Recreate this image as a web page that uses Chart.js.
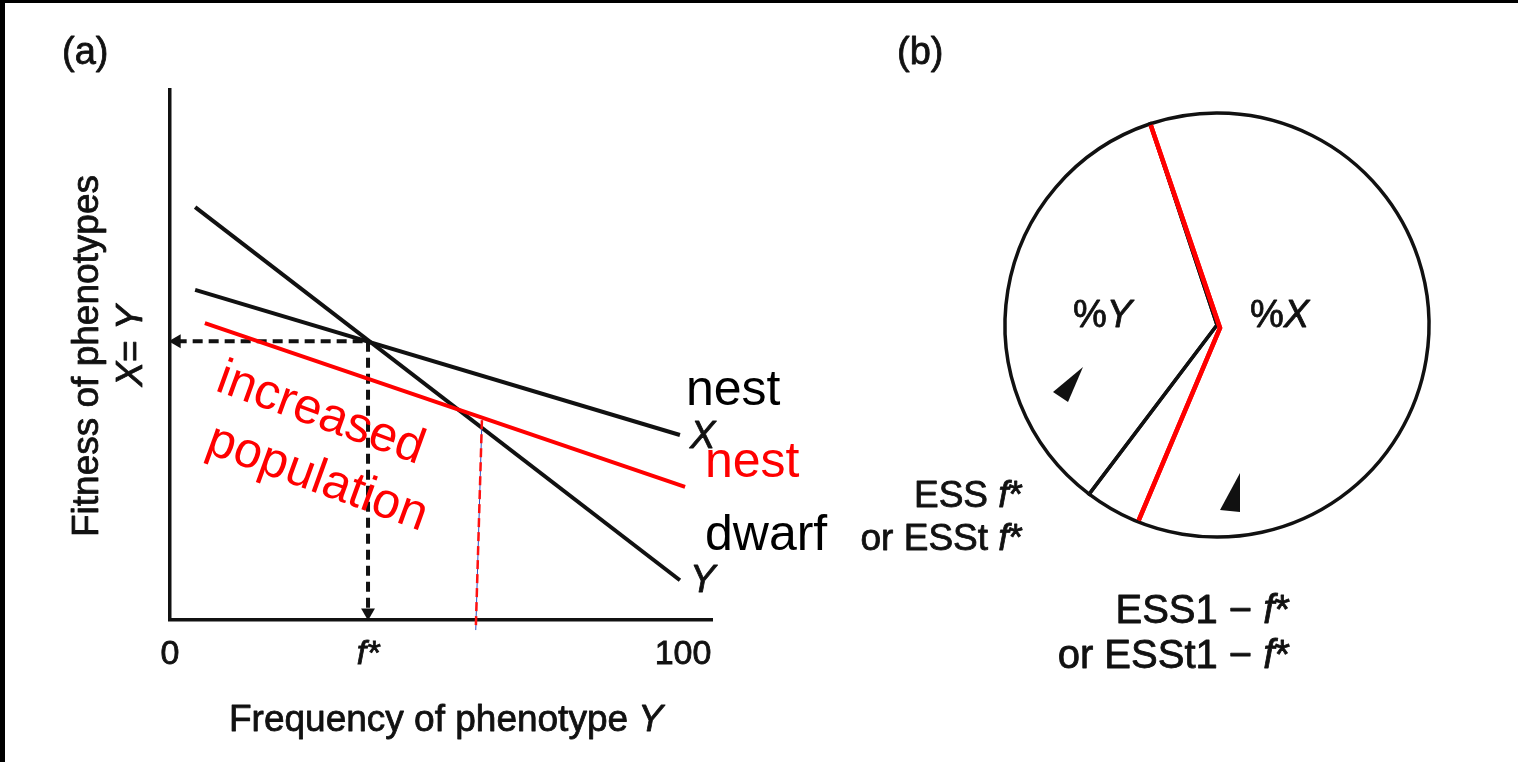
<!DOCTYPE html>
<html><head><meta charset="utf-8">
<script src="https://cdn.jsdelivr.net/npm/chart.js@4.4.1/dist/chart.umd.min.js"></script>
<style>
html,body{margin:0;padding:0;background:#fff;overflow:hidden;}
#wrap{position:relative;width:1518px;height:762px;background:#fff;}
canvas{position:absolute;left:0;top:0;}
.bar{position:absolute;background:#000;}
</style></head><body>
<div id="wrap">
<canvas id="ca" width="1518" height="762" style="width:1518px;height:762px"></canvas>
<canvas id="cb" width="1518" height="762" style="width:1518px;height:762px"></canvas>
<canvas id="cr" width="1518" height="762" style="width:1518px;height:762px"></canvas>
<div class="bar" style="left:0;top:0;width:1518px;height:3px"></div>
<div class="bar" style="left:0;top:0;width:5px;height:762px"></div>
</div>
<script>
// ---------- data (panel a) ----------
const xTickValues = [0, 38.6, 100];
const xTickLabels = ['0', 'f*', '100'];
const dwarfX = [4.9, 99.4];          // phenotype Y line
const dwarfFit = [77.9, 7.5];
const nestX = [4.9, 99.4];           // phenotype X line
const nestFit = [62.3, 34.9];
const nestNewX = [6.8, 100.4];       // red line, increased population
const nestNewFit = [56.0, 25.1];
const guideX = [1.3, 38.6, 38.6];    // equilibrium guide (f*, X=Y)
const guideY = [52.6, 52.6, 1.4];
const newGuideX = [60.8, 59.6];      // new equilibrium guide (red dashed)
const newGuideY = [37.7, -1.9];
// ---------- data (panel b) ----------
const pieLabels = ['%X', '%Y'];
const sharesBefore = [65.4, 34.6];
const sharesAfter = [61.6, 38.4];
const startBefore = -18.35;
const startAfter = -18.85;

const FAM = '"Liberation Sans", Arial, Helvetica, sans-serif';
function fnt(sz, it){ return (it ? 'italic ' : '') + sz + 'px ' + FAM; }
function runs(ctx, parts, x, y, align, size, color, stroke){
  ctx.fillStyle = color; ctx.strokeStyle = color; ctx.textBaseline = 'alphabetic'; ctx.textAlign = 'left';
  ctx.lineWidth = stroke || 0; ctx.lineJoin = 'round';
  let w = 0;
  parts.forEach(p => { ctx.font = fnt(size, p[1]); w += ctx.measureText(p[0]).width; });
  let cx = align === 'center' ? x - w/2 : (align === 'right' ? x - w : x);
  parts.forEach(p => {
    ctx.font = fnt(size, p[1]);
    ctx.fillText(p[0], cx, y);
    if (stroke) ctx.strokeText(p[0], cx, y);
    cx += ctx.measureText(p[0]).width;
  });
}
const pts = (xs, ys) => xs.map((x, i) => ({x: x, y: ys[i]}));
const SW = 0.8; // scanned-text weight

const textA = {
  id: 'textA',
  afterDraw(chart){
    const ctx = chart.ctx;
    ctx.save();
    runs(ctx, [['(a)', false]], 62, 64, 'left', 38, '#111', SW);
    // y title
    ctx.save(); ctx.translate(98, 356); ctx.rotate(-Math.PI/2);
    runs(ctx, [['Fitness of phenotypes', false]], 0, 0, 'center', 37, '#111', SW);
    ctx.restore();
    ctx.save(); ctx.translate(142, 346); ctx.rotate(-Math.PI/2);
    runs(ctx, [['X', true], ['= ', false], ['Y', true]], 0, 0, 'center', 37, '#111', SW);
    ctx.restore();
    // x title
    runs(ctx, [['Frequency of phenotype ', false], ['Y', true]], 446, 731, 'center', 37, '#111', SW);
    // line labels
    runs(ctx, [['X', true]], 690, 448, 'left', 38, '#111', SW);
    runs(ctx, [['Y', true]], 690, 592, 'left', 38, '#111', SW);
    runs(ctx, [['nest', false]], 686, 405, 'left', 50, '#000');
    runs(ctx, [['nest', false]], 705, 477, 'left', 50, '#ff0000');
    runs(ctx, [['dwarf', false]], 705, 550, 'left', 50, '#000');
    ctx.save(); ctx.translate(214, 390); ctx.rotate(20*Math.PI/180);
    runs(ctx, [['increased', false]], 0, 0, 'left', 50, '#ff0000');
    ctx.restore();
    ctx.save(); ctx.translate(204, 452); ctx.rotate(20*Math.PI/180);
    runs(ctx, [['population', false]], 0, 0, 'left', 50, '#ff0000');
    ctx.restore();
    ctx.restore();
  }
};

const chartA = new Chart(document.getElementById('ca'), {
  type: 'scatter',
  data: { datasets: [
    { data: pts(nestNewX, nestNewFit), showLine: true, borderColor: '#ff0000', borderWidth: 4, pointRadius: 0 },
    { data: pts(newGuideX, newGuideY), showLine: true, borderColor: '#ff1010', borderWidth: 2.5, borderDash: [9, 5], pointRadius: 0, clip: false },
    { data: pts(newGuideX, newGuideY), showLine: true, borderColor: '#2c4fc4', borderWidth: 1, pointRadius: 0, clip: false },
    { data: pts(nestX, nestFit), showLine: true, borderColor: '#111', borderWidth: 4, pointRadius: 0 },
    { data: pts(dwarfX, dwarfFit), showLine: true, borderColor: '#111', borderWidth: 4, pointRadius: 0 },
    { data: pts(guideX, guideY), showLine: true, borderColor: '#111', borderWidth: 4, borderDash: [10, 6],
      pointStyle: 'triangle', pointRadius: [8, 0, 8], pointRotation: [-90, 0, 180],
      pointBackgroundColor: '#111', pointBorderWidth: 0, clip: false }
  ]},
  options: {
    responsive: false, animation: false, events: [],
    plugins: { legend: { display: false }, tooltip: { enabled: false } },
    layout: { padding: { left: 170, top: 90, right: 806, bottom: 0 } },
    scales: {
      x: { type: 'linear', min: 0, max: 105.65,
        afterFit: s => { s.height = 142; },
        afterBuildTicks: axis => { axis.ticks = xTickValues.map(v => ({ value: v })); },
        grid: { display: false, drawTicks: false },
        border: { display: true, color: '#111', width: 3.5 },
        ticks: { autoSkip: false, maxRotation: 0, padding: 14, color: '#111',
          textStrokeColor: '#111', textStrokeWidth: SW,
          callback: (v, i) => xTickLabels[i],
          font: c => ({ family: FAM, size: 34, style: c.index === 1 ? 'italic' : 'normal' }) }
      },
      y: { type: 'linear', min: 0, max: 100,
        afterFit: s => { s.width = 0; },
        grid: { display: false, drawTicks: false },
        border: { display: true, color: '#111', width: 3.5 },
        ticks: { display: false }
      }
    }
  },
  plugins: [textA]
});

const textB = {
  id: 'textB',
  afterDraw(chart){
    const ctx = chart.ctx;
    const arc = chart.getDatasetMeta(0).data[0];
    const cx = arc.x, cy = arc.y;
    ctx.save();
    runs(ctx, [['(b)', false]], 897, 64, 'left', 38, '#111', SW);
    runs(ctx, [['%', false], ['Y', true]], 1073, 327, 'left', 38, '#111', SW);
    runs(ctx, [['%', false], ['X', true]], 1250, 327, 'left', 38, '#111', SW);
    runs(ctx, [['ESS ', false], ['f', true], ['*', false]], 1023, 507, 'right', 37, '#111', SW);
    runs(ctx, [['or ESSt ', false], ['f', true], ['*', false]], 1023, 550, 'right', 37, '#111', SW);
    runs(ctx, [['ESS1 \u2212 ', false], ['f', true], ['*', false]], 1290, 623, 'right', 40, '#111', SW);
    runs(ctx, [['or ESSt1 \u2212 ', false], ['f', true], ['*', false]], 1290, 668, 'right', 40, '#111', SW);
    // direction arrowheads
    ctx.fillStyle = '#111';
    ctx.beginPath();
    ctx.moveTo(cx - 134, cy + 42); ctx.lineTo(cx - 164, cy + 67); ctx.lineTo(cx - 149, cy + 77); ctx.closePath(); ctx.fill();
    ctx.beginPath();
    ctx.moveTo(cx + 23, cy + 148); ctx.lineTo(cx + 3, cy + 185); ctx.lineTo(cx + 23, cy + 187); ctx.closePath(); ctx.fill();
    ctx.restore();
  }
};

const chartB = new Chart(document.getElementById('cb'), {
  type: 'pie',
  data: { labels: pieLabels, datasets: [{ data: sharesBefore, backgroundColor: 'rgba(0,0,0,0)',
    borderColor: '#111', borderWidth: 3.5, borderJoinStyle: 'miter', clip: false }] },
  options: { responsive: false, animation: false, events: [], radius: 212, rotation: startBefore,
    plugins: { legend: { display: false }, tooltip: { enabled: false } },
    layout: { padding: { left: 1005, top: 113, right: 89, bottom: 225 } } },
  plugins: [textB]
});

const clipRed = {
  id: 'clipRed',
  beforeDatasetsDraw(chart){
    const a = chartB.getDatasetMeta(0).data[0];
    chart.ctx.save();
    chart.ctx.beginPath();
    chart.ctx.arc(a.x, a.y, a.outerRadius - 1.5, 0, Math.PI * 2);
    chart.ctx.clip();
  },
  afterDatasetsDraw(chart){ chart.ctx.restore(); }
};

const chartR = new Chart(document.getElementById('cr'), {
  type: 'pie',
  data: { labels: pieLabels, datasets: [{ data: sharesAfter, backgroundColor: 'rgba(0,0,0,0)',
    borderColor: '#ff0000', borderWidth: 4.5, borderJoinStyle: 'miter', clip: false }] },
  options: { responsive: false, animation: false, events: [], radius: 224, rotation: startAfter,
    plugins: { legend: { display: false }, tooltip: { enabled: false } },
    layout: { padding: { left: 1008, top: 116, right: 86, bottom: 222 } } },
  plugins: [clipRed]
});
</script>
</body></html>
